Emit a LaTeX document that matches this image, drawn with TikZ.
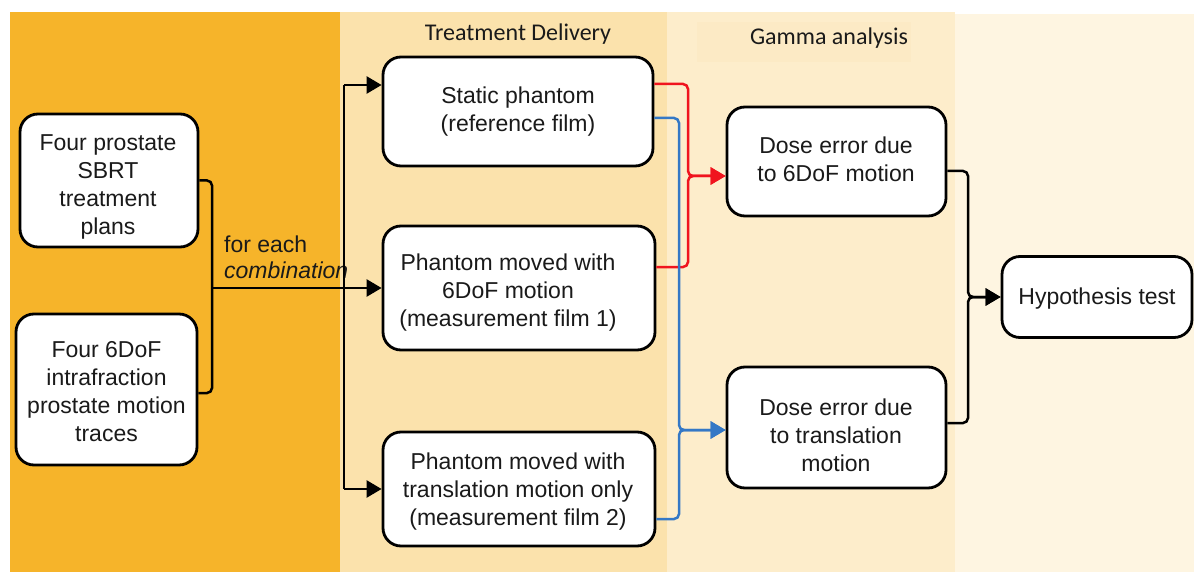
\documentclass[tikz,border=0pt]{standalone}
\usepackage{fontspec}
\setmainfont{Liberation Sans}
\newfontfamily\calib{Carlito}
\usetikzlibrary{arrows.meta}
\definecolor{pone}{HTML}{F6B42A}
\definecolor{ptwo}{HTML}{FBE2AC}
\definecolor{pthree}{HTML}{FDEDCB}
\definecolor{pfour}{HTML}{FEF5E1}
\definecolor{plabel}{HTML}{FCEAC5}
\definecolor{txt}{HTML}{1A1A1A}
\definecolor{redl}{HTML}{F0141E}
\definecolor{bluel}{HTML}{3478C6}
\tikzset{
  box/.style={draw=black, fill=white, line width=2.8pt, rounded corners=18pt, inner sep=0pt},
  btxt/.style={align=center, text=txt, font=\fontsize{23}{28}\selectfont, inner sep=0pt},
  conn/.style={line width=2.5pt, rounded corners=5pt},
  arr/.style={conn, -{Triangle[length=15pt,width=17pt]}},
  hdr/.style={font=\calib\fontsize{24}{28}\selectfont, text=txt},
}
\begin{document}
\begin{tikzpicture}[x=1pt,y=-1pt]
\useasboundingbox (0,0) rectangle (1194,572);
% panels
\fill[pone] (10,12) rectangle (340,572);
\fill[ptwo] (340,12) rectangle (667,572);
\fill[pthree] (667,12) rectangle (955,572);
\fill[pfour] (955,14) rectangle (1194,572);
\fill[plabel] (697,22) rectangle (911,62);
\node[hdr] (hd1) at (518,34) {Treatment Delivery};
\node[hdr] (hd2) at (829,38) {Gamma analysis};
% boxes
\node[box, minimum width=178pt, minimum height=133pt] (A) at (109,180.5) {};
\node[box, minimum width=181pt, minimum height=151pt] (B) at (106.5,389.5) {};
\node[box, minimum width=270pt, minimum height=109pt] (C) at (518,111.5) {};
\node[box, minimum width=272pt, minimum height=124pt] (D) at (519,288) {};
\node[box, minimum width=272pt, minimum height=114pt] (E) at (519,489) {};
\node[box, minimum width=219pt, minimum height=109pt] (F) at (836.5,161.5) {};
\node[box, minimum width=219pt, minimum height=121pt] (G) at (836.5,427.5) {};
\node[box, minimum width=190pt, minimum height=81pt] (H) at (1097,297) {};
% box texts
\node[btxt] (At) at (108,187) {Four prostate\\SBRT\\treatment\\plans};
\node[btxt] (Bt) at (106.5,391.5) {Four 6DoF\\intrafraction\\prostate motion\\traces};
\node[btxt] (Ct) at (518,112) {Static phantom\\(reference film)};
\node[btxt] (Dt) at (508,293) {Phantom moved with\\6DoF motion\\(measurement film 1)};
\node[btxt] (Et) at (518,492) {Phantom moved with\\translation motion only\\(measurement film 2)};
\node[btxt] (Ft) at (836,159) {Dose error due\\to 6DoF motion};
\node[btxt] (Gt) at (836,435) {Dose error due\\to translation\\motion};
\node[btxt] (Ht) at (1097,299) {Hypothesis test};
% label
\node[anchor=west, align=left, text=txt, font=\fontsize{23}{26}\selectfont, inner sep=0pt] (lab) at (224,257)
  {for each\\\textit{combination}};
% junction coordinates
\coordinate (jab) at (212,288);
\coordinate (tt) at (344,85);
\coordinate (tb) at (344,489);
\coordinate (jr) at (688,176);
\coordinate (jb) at (679,430);
\coordinate (jh) at (968,297);
% black connectors from inputs
\draw[conn] (A.east) -| (jab);
\draw[conn] (B.east |- 0,393) -| (jab);
\draw[arr] (jab) -- (D.west);
\draw[conn] (tt) -- (tb);
\draw[arr] (tt) -- (tt -| C.west);
\draw[arr] (tb) -- (E.west);
% red
\draw[arr, redl] (C.east |- 0,84) -| (jr) -- (F.west |- jr);
\draw[arr, redl] (D.east |- 0,267) -| (jr) -- (F.west |- jr);
% blue
\draw[arr, bluel] (C.east |- 0,118) -| (jb) -- (G.west |- jb);
\draw[arr, bluel] (E.east |- 0,519) -| (jb) -- (G.west |- jb);
% to hypothesis
\draw[arr] (F.east |- 0,171) -| (jh) -- (H.west);
\draw[arr] (G.east |- 0,423) -| (jh) -- (H.west);
\end{tikzpicture}
\end{document}
